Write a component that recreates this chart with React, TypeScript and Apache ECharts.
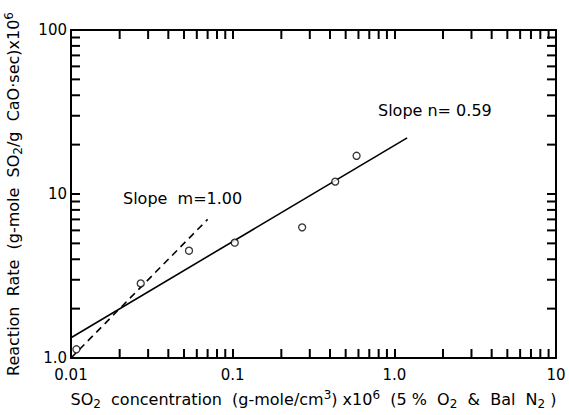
import React, { useEffect, useRef } from "react";
import * as echarts from "echarts";

// Measured SO2 concentration (g-mole/cm3 x10^6) and reaction rate (x10^6)
const concX = [0.0108, 0.027, 0.0537, 0.103, 0.269, 0.431, 0.584];
const rateY = [1.13, 2.85, 4.51, 5.05, 6.26, 11.9, 17.1];

// Fitted line, slope n = 0.59
const fitNX = [0.01, 1.2];
const fitNY = [1.33, 22.0];

// Reference line, slope m = 1.00
const fitMX = [0.01, 0.07];
const fitMY = [1.0, 7.0];

// Decades used for the minor tick marks on all four sides
const xDecades = [0.01, 0.1, 1];
const yDecades = [1, 10];
const tickSteps = [2, 3, 4, 5, 6, 7, 8, 9];

const X_MIN = 0.01, X_MAX = 10, Y_MIN = 1, Y_MAX = 100;
const FONT = "'DejaVu Sans', Verdana, sans-serif";

const W = 569, H = 415;
const GRID = { left: 71, right: 13, top: 30, bottom: 57, outerBoundsMode: "none" };
const TICK_PX = 9;
const TICK_W = 2;

export default function App() {
  const ref = useRef<HTMLDivElement>(null);

  useEffect(() => {
    if (!ref.current) return;
    const chart = echarts.init(ref.current, null, { renderer: "svg" });

    const axisCommon = {
      type: "log",
      logBase: 10,
      axisLine: { show: true, lineStyle: { color: "#000", width: 2 } },
      axisTick: { show: true, inside: true, length: TICK_PX, lineStyle: { color: "#000", width: TICK_W } },
      splitLine: { show: false },
    };

    const labelFmt = (v: number) => (Math.abs(v - 1) < 1e-9 ? "1.0" : String(v));

    const rich = {
      sub: { fontSize: 12, fontFamily: FONT, color: "#000", padding: [9, 0, 0, 0] },
      sup: { fontSize: 12, fontFamily: FONT, color: "#000", padding: [0, 0, 9, 0] },
    };

    chart.setOption({
      animation: false,
      backgroundColor: "#fff",
      textStyle: { fontFamily: FONT },
      grid: GRID,
      xAxis: [
        {
          ...axisCommon,
          position: "bottom",
          min: X_MIN,
          max: X_MAX,
          axisLabel: { color: "#000", fontSize: 15, fontFamily: FONT, margin: 9, formatter: labelFmt },
          name: "SO{sub|2}  concentration  (g-mole/cm{sup|3}) x10{sup|6}  (5 %  O{sub|2}  &  Bal  N{sub|2} )",
          nameLocation: "middle",
          nameGap: 31,
          nameTextStyle: { color: "#000", fontSize: 16, fontFamily: FONT, rich },
        },
        { ...axisCommon, position: "top", min: X_MIN, max: X_MAX, axisLabel: { show: false } },
      ],
      yAxis: [
        {
          ...axisCommon,
          position: "left",
          min: Y_MIN,
          max: Y_MAX,
          axisLabel: { color: "#000", fontSize: 15, fontFamily: FONT, margin: 4, formatter: labelFmt },
          name: "Reaction  Rate  (g-mole  SO{sub|2}/g  CaO\u00B7sec)x10{sup|6}",
          nameLocation: "middle",
          nameGap: 47,
          nameTextStyle: { color: "#000", fontSize: 16, fontFamily: FONT, rich },
        },
        { ...axisCommon, position: "right", min: Y_MIN, max: Y_MAX, axisLabel: { show: false } },
      ],
      series: [
        {
          type: "line",
          data: fitNX.map((x, i) => [x, fitNY[i]]),
          symbol: "none",
          lineStyle: { color: "#000", width: 1.6 },
          silent: true,
        },
        {
          type: "line",
          data: fitMX.map((x, i) => [x, fitMY[i]]),
          symbol: "none",
          lineStyle: { color: "#000", width: 1.6, type: [7, 5] },
          silent: true,
        },
        {
          type: "scatter",
          data: concX.map((x, i) => [x, rateY[i]]),
          symbol: "circle",
          symbolSize: 7,
          itemStyle: { color: "#fff", borderColor: "#000", borderWidth: 1.3 },
          z: 5,
        },
      ],
    });

    // Annotation texts and minor tick marks, placed through the axes' own scales
    const toPx = (x: number, y: number) => chart.convertToPixel({ gridIndex: 0 }, [x, y]) as number[];
    const els: any[] = [
      {
        type: "text",
        left: 123,
        top: 190,
        style: { text: "Slope  m=1.00", fontSize: 16, fontFamily: FONT, fill: "#000" },
      },
      {
        type: "text",
        left: 378,
        top: 102,
        style: { text: "Slope n= 0.59", fontSize: 16, fontFamily: FONT, fill: "#000" },
      },
    ];
    const fill = { fill: "#000" };
    xDecades.forEach((d) =>
      tickSteps.forEach((k) => {
        const v = d * k;
        const b = toPx(v, Y_MIN);
        const t = toPx(v, Y_MAX);
        els.push({ type: "rect", shape: { x: b[0] - TICK_W / 2, y: b[1] - TICK_PX, width: TICK_W, height: TICK_PX }, style: fill });
        els.push({ type: "rect", shape: { x: t[0] - TICK_W / 2, y: t[1], width: TICK_W, height: TICK_PX }, style: fill });
      })
    );
    yDecades.forEach((d) =>
      tickSteps.forEach((k) => {
        const v = d * k;
        const l = toPx(X_MIN, v);
        const r = toPx(X_MAX, v);
        els.push({ type: "rect", shape: { x: l[0], y: l[1] - TICK_W / 2, width: TICK_PX, height: TICK_W }, style: fill });
        els.push({ type: "rect", shape: { x: r[0] - TICK_PX, y: r[1] - TICK_W / 2, width: TICK_PX, height: TICK_W }, style: fill });
      })
    );
    chart.setOption({ graphic: els });

    return () => chart.dispose();
  }, []);

  return <div ref={ref} style={{ width: W, height: H, position: "absolute", left: 0, top: 0 }} />;
}
